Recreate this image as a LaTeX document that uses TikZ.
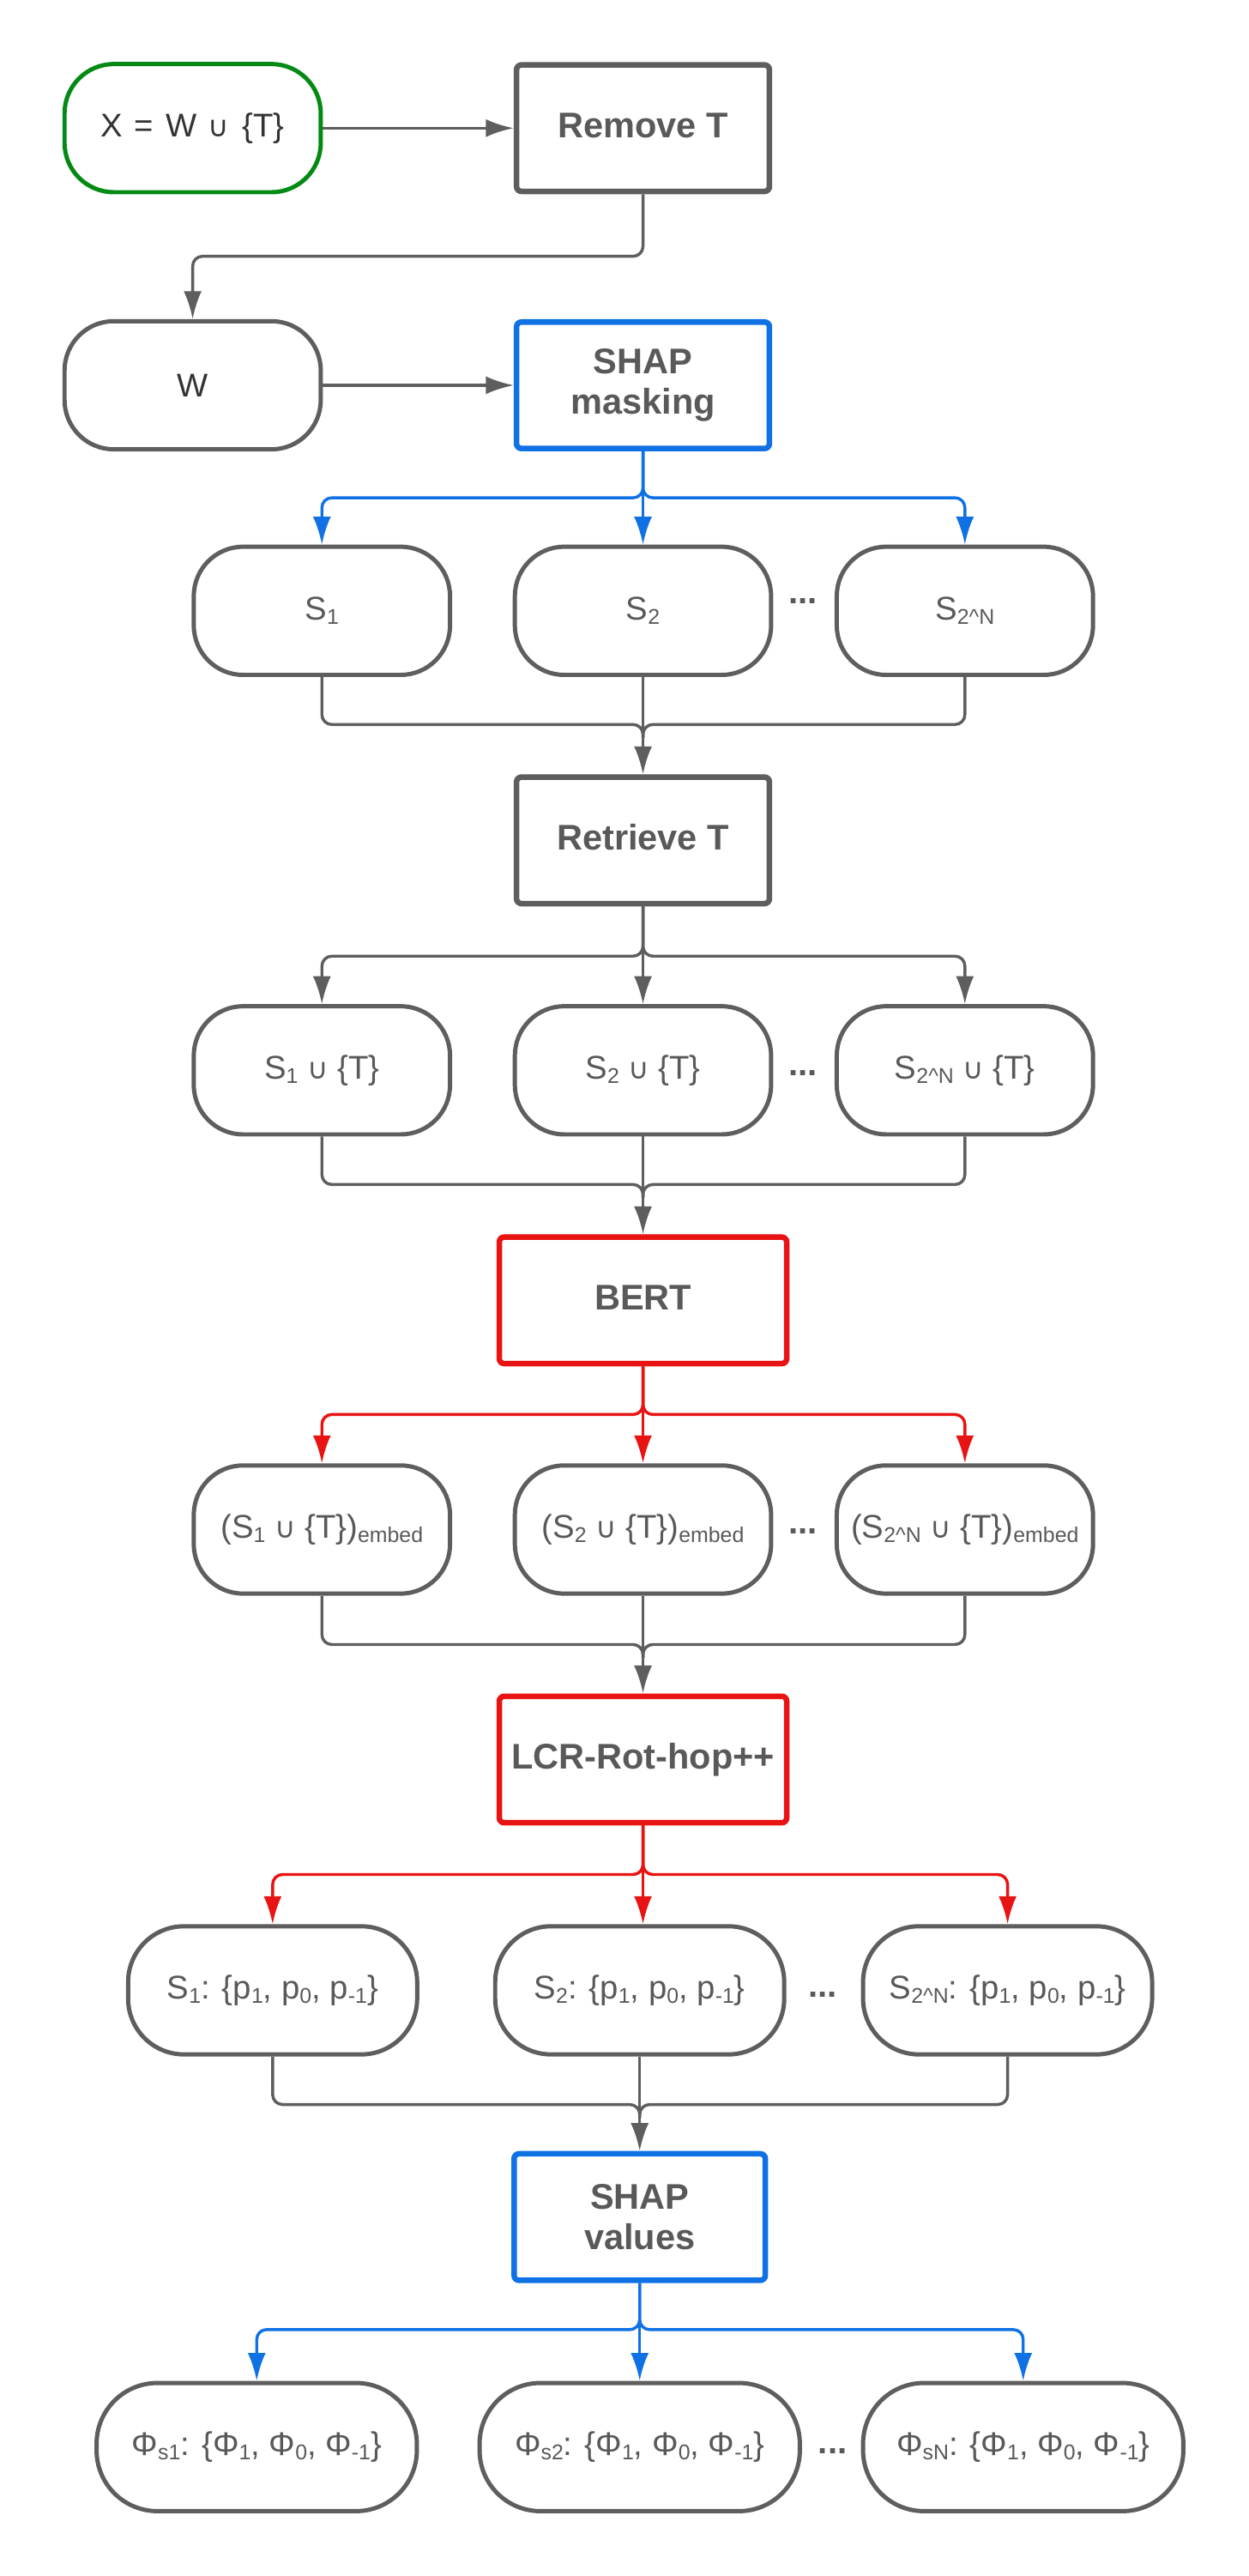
\documentclass[tikz,border=0pt]{standalone}
\usepackage{fontspec}
\setmainfont{Liberation Sans}
\newfontfamily\symf{DejaVu Sans}
\usetikzlibrary{arrows.meta}
\definecolor{lg}{HTML}{5E5E5E}
\definecolor{tx}{HTML}{595959}
\definecolor{dk}{HTML}{333333}
\definecolor{gr}{HTML}{048A14}
\definecolor{bl}{HTML}{1071E5}
\definecolor{rd}{HTML}{E81313}
\newcommand{\sbs}[1]{\raisebox{-2.5pt}{\fontsize{13}{13}\selectfont #1}}
\newcommand{\cupp}{{\symf\fontsize{17.5}{17.5}\selectfont ∪}}
\newcommand{\up}[1]{\raisebox{3.5pt}{#1}}
\tikzset{
  pill/.style={draw=lg, line width=2.6pt, rounded corners=30pt, minimum width=156pt,
    minimum height=78pt, inner sep=0pt, text=tx, font=\fontsize{20}{24}\selectfont, fill=white},
  box/.style={draw=lg, line width=3.4pt, rounded corners=3pt, minimum width=154pt,
    minimum height=77pt, inner sep=0pt, text=tx, font=\bfseries\fontsize{21.7}{25}\selectfont,
    align=center, fill=white},
  conn/.style={line width=1.8pt, rounded corners=6pt},
  arr/.style={-{Latex[length=17pt,width=11pt]}},
  dotsn/.style={text=tx, font=\bfseries\fontsize{21}{24}\selectfont, inner sep=0pt},
}
\begin{document}
\begin{tikzpicture}[x=1pt,y=-1pt]
\useasboundingbox (0,0) rectangle (760,1568);
% row 1-2
\node[pill, draw=gr, text=dk] (X) at (117.3,78) {X\hspace{7pt}=\hspace{7.5pt}W\hspace{7pt}\cupp\hspace{8pt}\{T\}};
\node[box] (RT) at (391.5,78) {\up{Remove T}};
\node[pill, text=dk] (W) at (117.3,234.5) {W};
\node[box, draw=bl] (SM) at (391.5,234.5) {\raisebox{-2pt}{\parbox{150pt}{\centering SHAP\\masking}}};
% row 3
\node[pill] (a3) at (196,371.8) {S\sbs{1}};
\node[pill] (b3) at (391.5,371.8) {S\sbs{2}};
\node[pill] (c3) at (587.5,371.8) {S\sbs{2\textasciicircum N}};
\node[dotsn] (d3) at (489,366) {...};
\node[box] (RV) at (391.5,511.5) {\up{Retrieve T}};
% row 4
\node[pill] (a4) at (196,651.5) {S\sbs{1} \cupp\ \{T\}};
\node[pill] (b4) at (391.5,651.5) {S\sbs{2} \cupp\ \{T\}};
\node[pill] (c4) at (587.5,651.5) {S\sbs{2\textasciicircum N} \cupp\ \{T\}};
\node[dotsn] (d4) at (489,653) {...};
\node[box, draw=rd, minimum width=175pt] (BE) at (391.5,791.5) {\up{BERT}};
% row 5
\node[pill] (a5) at (196,931) {(S\sbs{1} \cupp\ \{T\})\sbs{embed}};
\node[pill] (b5) at (391.5,931) {(S\sbs{2} \cupp\ \{T\})\sbs{embed}};
\node[pill] (c5) at (587.5,931) {(S\sbs{2\textasciicircum N} \cupp\ \{T\})\sbs{embed}};
\node[dotsn] (d5) at (489,932) {...};
\node[box, draw=rd, minimum width=175pt] (LC) at (391.5,1071) {\up{LCR-Rot-hop++}};
% row 6
\node[pill, minimum width=176pt, rounded corners=34pt] (a6) at (166,1211.5) {S\sbs{1}: \{p\sbs{1}, p\sbs{0}, p\sbs{-1}\}};
\node[pill, minimum width=176pt, rounded corners=34pt] (b6) at (389.5,1211.5) {S\sbs{2}: \{p\sbs{1}, p\sbs{0}, p\sbs{-1}\}};
\node[pill, minimum width=176pt, rounded corners=34pt] (c6) at (613.5,1211.5) {S\sbs{2\textasciicircum N}: \{p\sbs{1}, p\sbs{0}, p\sbs{-1}\}};
\node[dotsn] (d6) at (501,1214) {...};
\node[box, draw=bl, minimum width=153pt] (SV) at (389.5,1349.5) {SHAP\\values};
% row 7
\node[pill, minimum width=195pt, rounded corners=37pt] (a7) at (156.3,1489.5) {Φ\sbs{s1}: \{Φ\sbs{1}, Φ\sbs{0}, Φ\sbs{-1}\}};
\node[pill, minimum width=195pt, rounded corners=37pt] (b7) at (389.5,1489.5) {Φ\sbs{s2}: \{Φ\sbs{1}, Φ\sbs{0}, Φ\sbs{-1}\}};
\node[pill, minimum width=195pt, rounded corners=37pt] (c7) at (623,1489.5) {Φ\sbs{sN}: \{Φ\sbs{1}, Φ\sbs{0}, Φ\sbs{-1}\}};
\node[dotsn] (d7) at (507,1492) {...};
% connectors row 1-2
\draw[conn, draw=lg, arr] (X.east) -- (RT.west);
\draw[conn, draw=lg, arr] (RT.south) -- (RT.south |- 0,156) -| (W.north);
\draw[conn, draw=lg, arr] (W.east) -- (SM.west);
% fans
\foreach \p/\y/\c/\r in {SM/303/bl/3, RV/582/lg/4, BE/861/rd/5}{
  \draw[conn, draw=\c, arr] (\p.south) -- (\p.south |- 0,\y) -| (a\r.north);
  \draw[conn, draw=\c, arr] (\p.south) -- (\p.south |- 0,\y) -| (c\r.north);
  \draw[conn, draw=\c, arr] (\p.south) -- (b\r.north);
}
\draw[conn, draw=rd, arr] (LC.south) -- (LC.south |- 0,1141) -| (a6.north);
\draw[conn, draw=rd, arr] (LC.south) -- (LC.south |- 0,1141) -| (c6.north);
\draw[conn, draw=rd, arr] (LC.south) -- (LC.south |- b6.north);
\draw[conn, draw=bl, arr] (SV.south) -- (SV.south |- 0,1418) -| (a7.north);
\draw[conn, draw=bl, arr] (SV.south) -- (SV.south |- 0,1418) -| (c7.north);
\draw[conn, draw=bl, arr] (SV.south) -- (b7.north);
% merges
\foreach \r/\t/\y in {3/RV/441, 4/BE/721, 5/LC/1001, 6/SV/1281}{
  \draw[conn, draw=lg] (a\r.south) |- (\t.north |- 0,\y) -- ++(0,8);
  \draw[conn, draw=lg] (c\r.south) |- (\t.north |- 0,\y) -- ++(0,8);
  \draw[conn, draw=lg, arr] (b\r.south) -- (b\r.south |- 0,\y) -- (\t.north |- 0,\y) -- (\t.north);
}
\end{tikzpicture}
\end{document}
